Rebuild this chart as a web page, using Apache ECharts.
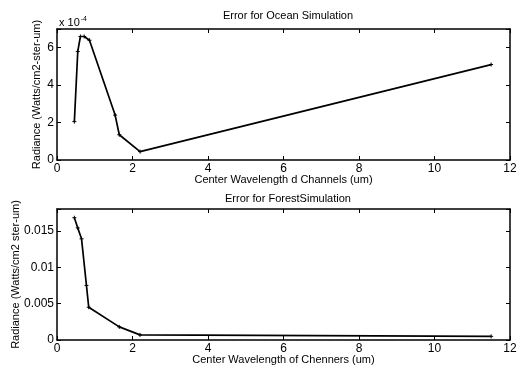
<!DOCTYPE html>
<html>
<head>
<meta charset="utf-8">
<script src="https://cdn.jsdelivr.net/npm/echarts@6/dist/echarts.min.js"></script>
<style>
  html, body { margin: 0; padding: 0; background: #fff; }
  #main { width: 521px; height: 378px; }
</style>
</head>
<body>
<div id="main"></div>
<script>
// top plot, radiance in units of 1e-4
let oceanWavelength = [0.46, 0.55, 0.62, 0.72, 0.86, 1.54, 1.65, 2.2, 11.5];
let oceanError = [2.05, 5.8, 6.6, 6.6, 6.4, 2.4, 1.35, 0.45, 5.1];

// bottom plot
let forestWavelength = [0.46, 0.55, 0.65, 0.78, 0.84, 1.65, 2.2, 11.5];
let forestError = [0.0168, 0.0154, 0.0139, 0.0075, 0.0045, 0.0018, 0.0007, 0.0005];

let xTicks = [0, 2, 4, 6, 8, 10, 12];
let oceanTicks = [0, 2, 4, 6];
let forestTicks = [0, 0.005, 0.01, 0.015];

var plusMark = 'path://M5,0L5,10M0,5L10,5';
var font = 'Liberation Sans';

function xAxes(gridIndex, name) {
    return [{
        gridIndex: gridIndex, type: 'value', position: 'bottom',
        min: 0, max: 12, interval: 2,
        name: name, nameLocation: 'middle', nameGap: 14, nameMoveOverlap: false,
        nameTextStyle: { color: '#000', fontFamily: font, fontSize: 11 },
        axisLine: { onZero: false, lineStyle: { color: '#000', width: 1.5 } },
        axisTick: { inside: true, length: 4, lineStyle: { color: '#000' } },
        axisLabel: { color: '#000', fontFamily: font, fontSize: 12, margin: 3,
            formatter: v => xTicks.indexOf(v) >= 0 ? String(v) : '' },
        splitLine: { show: false }
    }, {
        gridIndex: gridIndex, type: 'value', position: 'top',
        min: 0, max: 12, interval: 2,
        axisLine: { onZero: false, lineStyle: { color: '#000', width: 1.5 } },
        axisTick: { inside: true, length: 4, lineStyle: { color: '#000' } },
        axisLabel: { show: false },
        splitLine: { show: false }
    }];
}

function yAxes(gridIndex, name, max, interval, ticks, gap) {
    var onTick = v => ticks.some(t => Math.abs(t - v) < 1e-9);
    return [{
        gridIndex: gridIndex, type: 'value', position: 'left',
        min: 0, max: max, interval: interval,
        name: name, nameLocation: 'middle', nameGap: gap, nameRotate: 90, nameMoveOverlap: false,
        nameTextStyle: { color: '#000', fontFamily: font, fontSize: 11 },
        axisLine: { onZero: false, lineStyle: { color: '#000', width: 1.5 } },
        axisTick: { inside: true, length: 4, lineStyle: { color: '#000' } },
        axisLabel: { color: '#000', fontFamily: font, fontSize: 12, margin: 3,
            formatter: v => onTick(v) ? String(+v.toFixed(4)) : '' },
        splitLine: { show: false }
    }, {
        gridIndex: gridIndex, type: 'value', position: 'right',
        min: 0, max: max, interval: interval,
        axisLine: { onZero: false, lineStyle: { color: '#000', width: 1.5 } },
        axisTick: { inside: true, length: 4, lineStyle: { color: '#000' } },
        axisLabel: { show: false },
        splitLine: { show: false }
    }];
}

var myChart = echarts.init(document.getElementById('main'));

var option = {
    backgroundColor: '#fff',
    animation: false,
    title: [{
        text: 'Error for Ocean Simulation', left: 283, top: 5, textAlign: 'center',
        textStyle: { color: '#000', fontFamily: font, fontSize: 11, fontWeight: 'normal' }
    }, {
        text: 'Error for ForestSimulation', left: 283, top: 188, textAlign: 'center',
        textStyle: { color: '#000', fontFamily: font, fontSize: 11, fontWeight: 'normal' }
    }, {
        text: '{a|x 10}{b|-4}', left: 54, top: 11,
        textStyle: { rich: {
            a: { color: '#000', fontFamily: font, fontSize: 11, fontWeight: 'normal' },
            b: { color: '#000', fontFamily: font, fontSize: 7, fontWeight: 'normal', verticalAlign: 'top', padding: [0, 0, 6, 1] }
        } }
    }],
    grid: [
        { left: 57, top: 29, width: 453, height: 131, outerBoundsMode: 'none' },
        { left: 57, top: 209, width: 453, height: 131, outerBoundsMode: 'none' }
    ],
    xAxis: xAxes(0, 'Center Wavelength d Channels (um)')
        .concat(xAxes(1, 'Center Wavelength of Chenners (um)')),
    yAxis: yAxes(0, 'Radiance (Watts/cm2-ster-um)', 7, 2, oceanTicks, 15)
        .concat(yAxes(1, 'Radiance (Watts/cm2 ster-um)', 0.018, 0.005, forestTicks, 36)),
    series: [{
        type: 'line', xAxisIndex: 0, yAxisIndex: 0,
        data: oceanWavelength.map((w, i) => [w, oceanError[i]]),
        symbol: plusMark, symbolSize: 4, showSymbol: true,
        lineStyle: { color: '#000', width: 1.7 },
        itemStyle: { color: '#000', borderColor: '#000', borderWidth: 1 }
    }, {
        type: 'line', xAxisIndex: 2, yAxisIndex: 2,
        data: forestWavelength.map((w, i) => [w, forestError[i]]),
        symbol: plusMark, symbolSize: 4, showSymbol: true,
        lineStyle: { color: '#000', width: 1.7 },
        itemStyle: { color: '#000', borderColor: '#000', borderWidth: 1 }
    }]
};

myChart.setOption(option);
</script>
</body>
</html>
